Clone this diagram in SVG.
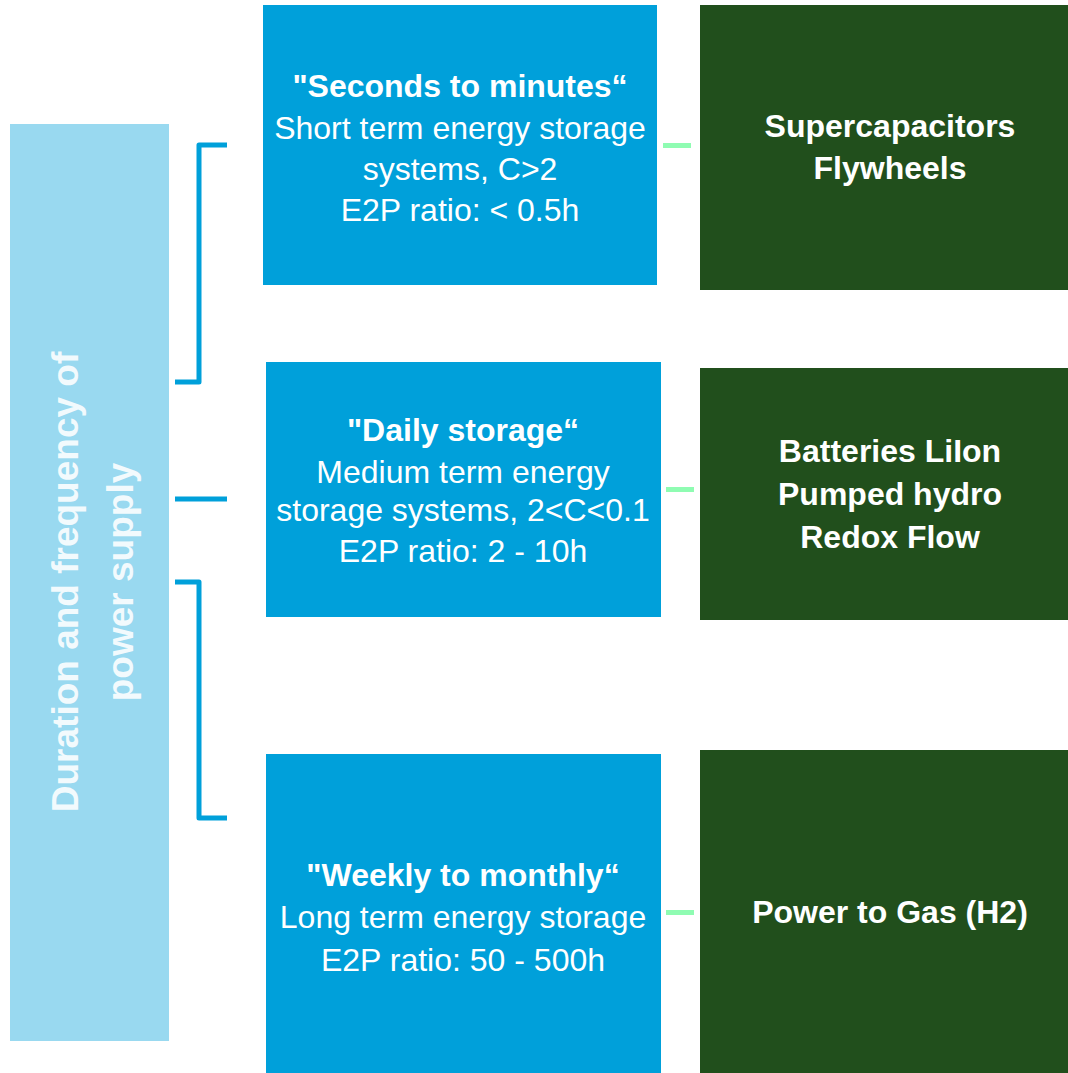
<svg xmlns="http://www.w3.org/2000/svg" width="1068" height="1073" viewBox="0 0 1068 1073">
  <style>
    text { font-family: "Liberation Sans", Arial, sans-serif; fill: #ffffff; text-anchor: middle; }
    .title { font-size: 32px; font-weight: bold; }
    .body { font-size: 32px; }
    .tech { font-size: 32px; font-weight: bold; }
    .axis { font-size: 37px; font-weight: bold; fill-opacity: 0.88; }
    .blue { fill: #00A0DA; }
    .green { fill: #214F1C; }
    .bracket { fill: none; stroke: #00A0DA; stroke-width: 5; stroke-linejoin: round; }
    .link { fill: #8FFCB2; }
  </style>

  <rect width="1068" height="1073" fill="#ffffff"/>

  <!-- Vertical axis label -->
  <g id="axis">
    <rect x="10" y="124" width="159" height="917" fill="#99D9F0"/>
    <text class="axis" transform="translate(78,582) rotate(-90)">Duration and frequency of</text>
    <text class="axis" transform="translate(133,582) rotate(-90)">power supply</text>
  </g>

  <!-- Storage categories -->
  <g id="short-term">
    <rect class="blue" x="263" y="5" width="394" height="280"/>
    <text class="title" x="460" y="97">"Seconds to minutes“</text>
    <text class="body" x="460" y="139">Short term energy storage</text>
    <text class="body" x="460" y="180">systems, C&gt;2</text>
    <text class="body" x="460" y="221">E2P ratio: &lt; 0.5h</text>
  </g>

  <g id="medium-term">
    <rect class="blue" x="266" y="362" width="395" height="255"/>
    <text class="title" x="463" y="441">"Daily storage“</text>
    <text class="body" x="463" y="483">Medium term energy</text>
    <text class="body" x="463" y="521">storage systems, 2&lt;C&lt;0.1</text>
    <text class="body" x="463" y="562">E2P ratio: 2 - 10h</text>
  </g>

  <g id="long-term">
    <rect class="blue" x="266" y="754" width="395" height="319"/>
    <text class="title" x="463" y="886">"Weekly to monthly“</text>
    <text class="body" x="463" y="928">Long term energy storage</text>
    <text class="body" x="463" y="971">E2P ratio: 50 - 500h</text>
  </g>

  <!-- Technologies -->
  <g id="tech-short">
    <rect class="green" x="700" y="5" width="368" height="285"/>
    <text class="tech" x="890" y="137">Supercapacitors</text>
    <text class="tech" x="890" y="179">Flywheels</text>
  </g>

  <g id="tech-medium">
    <rect class="green" x="700" y="368" width="368" height="252"/>
    <text class="tech" x="890" y="462">Batteries LiIon</text>
    <text class="tech" x="890" y="505">Pumped hydro</text>
    <text class="tech" x="890" y="548">Redox Flow</text>
  </g>

  <g id="tech-long">
    <rect class="green" x="700" y="750" width="368" height="323"/>
    <text class="tech" x="890" y="923">Power to Gas (H2)</text>
  </g>

  <!-- Connectors -->
  <g id="connectors">
    <path class="bracket" d="M227,145 H199 V382 H175"/>
    <path class="bracket" d="M175,499 H227"/>
    <path class="bracket" d="M175,582 H199 V818 H227"/>
    <rect class="link" x="663" y="143" width="28" height="5"/>
    <rect class="link" x="666" y="487" width="28" height="5"/>
    <rect class="link" x="666" y="910" width="28" height="5"/>
  </g>
</svg>
